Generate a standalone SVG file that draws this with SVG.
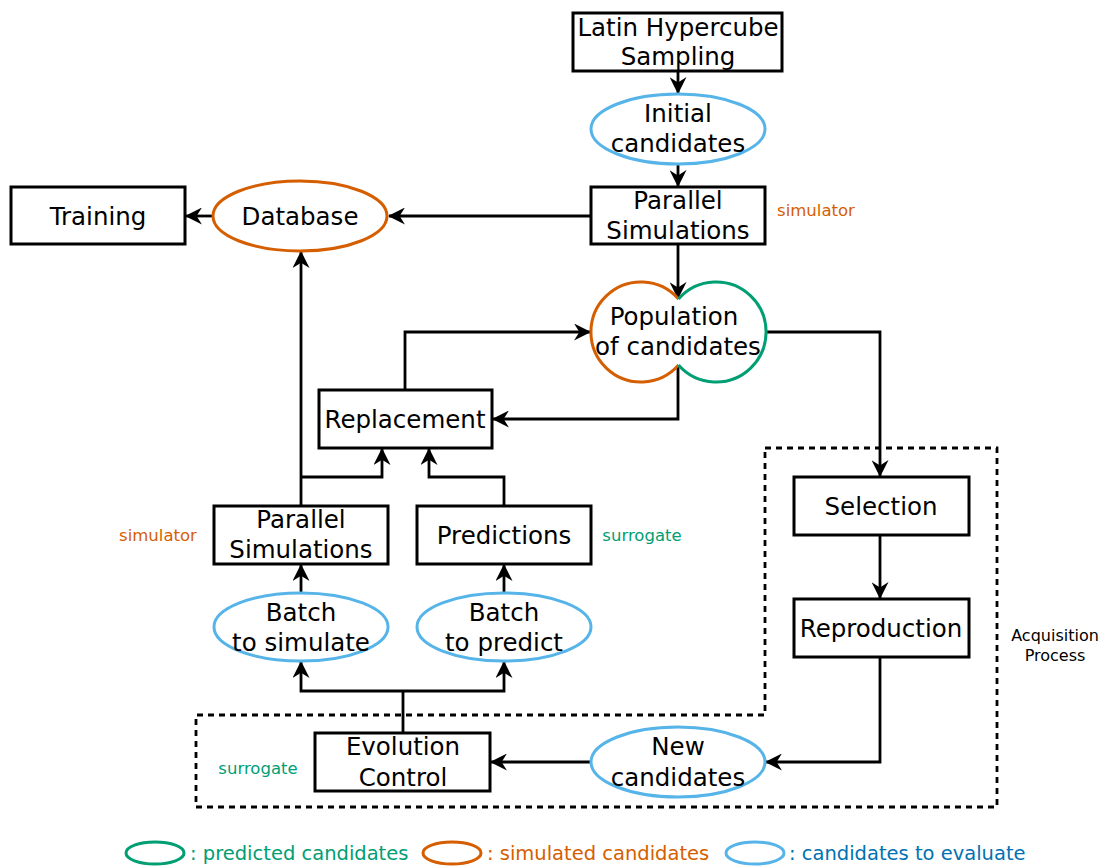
<svg xmlns="http://www.w3.org/2000/svg" width="1106" height="868" viewBox="0 0 1106 868">
<defs>
<marker id="ah" viewBox="0 0 16 16" refX="15" refY="8" markerWidth="17" markerHeight="17" markerUnits="userSpaceOnUse" orient="auto">
<path d="M0,0 L16,8 L0,16 L5,8 Z" fill="#000"/>
</marker>
</defs>
<style>
text{font-family:"DejaVu Sans","Liberation Sans",sans-serif;text-anchor:middle}
.lbl{font-size:24.5px;fill:#000}
.box{fill:#fff;stroke:#000;stroke-width:3}
.blue{fill:#fff;stroke:#56B4E9;stroke-width:3}
.orange{fill:#fff;stroke:#D55E00;stroke-width:3}
.green{fill:#fff;stroke:#009E73;stroke-width:3}
.con{fill:none;stroke:#000;stroke-width:2.8}
.arr{marker-end:url(#ah)}
.sim{font-size:16.5px;fill:#D55E00}
.sur{font-size:16.5px;fill:#009E73}
.leg{font-size:19.5px;text-anchor:start}
</style>
<rect width="1106" height="868" fill="#fff"/>
<g id="connectors">
<path class="con arr" d="M678,71 V93"/>
<path class="con arr" d="M678,164 V186"/>
<path class="con arr" d="M591,216 H389"/>
<path class="con arr" d="M213,216 H186"/>
<path class="con arr" d="M678,244 V298"/>
<path class="con arr" d="M767,332 H880 V476"/>
<path class="con arr" d="M405,390 V332 H590"/>
<path class="con arr" d="M678,366 V419 H493"/>
<path class="con arr" d="M301,506 V252"/>
<path class="con arr" d="M301,477 H382 V449"/>
<path class="con arr" d="M504,506 V477 H429 V449"/>
<path class="con arr" d="M301,593 V565"/>
<path class="con arr" d="M504,593 V565"/>
<path class="con" d="M403,733 V691"/>
<path class="con arr" d="M403,691 H301 V662"/>
<path class="con arr" d="M403,691 H504 V662"/>
<path class="con arr" d="M591,762 H491"/>
<path class="con arr" d="M880,535 V598"/>
<path class="con arr" d="M880,657 V762 H766"/>
</g>
<g id="acquisition">
<path d="M765,448 H997 V807 H196 V715 H765 Z" fill="none" stroke="#000" stroke-width="2.8" stroke-dasharray="6,5"/>
<text x="1055" y="641" style="font-size:16px">Acquisition</text>
<text x="1055" y="661" style="font-size:16px">Process</text>
</g>
<g id="lhs">
<rect class="box" x="573" y="13" width="209" height="58"/>
<text class="lbl" x="678" y="36">Latin Hypercube</text>
<text class="lbl" x="678" y="65">Sampling</text>
</g>
<g id="initial">
<ellipse class="blue" cx="678" cy="129" rx="87" ry="35"/>
<text class="lbl" x="678" y="122">Initial</text>
<text class="lbl" x="678" y="152">candidates</text>
</g>
<g id="parsim1">
<rect class="box" x="591" y="187" width="174" height="57"/>
<text class="lbl" x="678" y="209">Parallel</text>
<text class="lbl" x="678" y="239">Simulations</text>
<text class="sim" x="816" y="216">simulator</text>
</g>
<g id="database">
<ellipse class="orange" cx="300" cy="216" rx="87" ry="35"/>
<text class="lbl" x="300" y="225">Database</text>
</g>
<g id="training">
<rect class="box" x="11" y="187" width="174" height="57"/>
<text class="lbl" x="98" y="225">Training</text>
</g>
<g id="population">
<path d="M678.5,299 A50,50 0 1 0 678.5,365" fill="#fff" stroke="#D55E00" stroke-width="3"/>
<path d="M678.5,299 A50,50 0 1 1 678.5,365" fill="#fff" stroke="#009E73" stroke-width="3"/>
<text class="lbl" x="674" y="325">Population</text>
<text class="lbl" x="678" y="355">of candidates</text>
</g>
<g id="replacement">
<rect class="box" x="319" y="390" width="173" height="58"/>
<text class="lbl" x="405" y="428">Replacement</text>
</g>
<g id="parsim2">
<rect class="box" x="214" y="506" width="174" height="58"/>
<text class="lbl" x="301" y="528">Parallel</text>
<text class="lbl" x="301" y="558">Simulations</text>
<text class="sim" x="158" y="541">simulator</text>
</g>
<g id="predictions">
<rect class="box" x="417" y="506" width="174" height="58"/>
<text class="lbl" x="504" y="544">Predictions</text>
<text class="sur" x="642" y="541">surrogate</text>
</g>
<g id="batchsim">
<ellipse class="blue" cx="301" cy="627" rx="87" ry="34"/>
<text class="lbl" x="301" y="621">Batch</text>
<text class="lbl" x="301" y="651">to simulate</text>
</g>
<g id="batchpred">
<ellipse class="blue" cx="504" cy="627" rx="87" ry="34"/>
<text class="lbl" x="504" y="621">Batch</text>
<text class="lbl" x="504" y="651">to predict</text>
</g>
<g id="evolution">
<rect class="box" x="315" y="733" width="175" height="58"/>
<text class="lbl" x="403" y="755">Evolution</text>
<text class="lbl" x="403" y="786">Control</text>
<text class="sur" x="258" y="774">surrogate</text>
</g>
<g id="newcand">
<ellipse class="blue" cx="678" cy="762" rx="87" ry="35"/>
<text class="lbl" x="678" y="755">New</text>
<text class="lbl" x="678" y="786">candidates</text>
</g>
<g id="selection">
<rect class="box" x="794" y="477" width="175" height="58"/>
<text class="lbl" x="881" y="515">Selection</text>
</g>
<g id="reproduction">
<rect class="box" x="794" y="599" width="175" height="58"/>
<text class="lbl" x="881" y="637">Reproduction</text>
</g>
<g id="legend">
<ellipse class="green" cx="155" cy="853" rx="29" ry="11"/>
<text class="leg" x="190" y="860" fill="#009E73">: predicted candidates</text>
<ellipse class="orange" cx="452" cy="853" rx="29" ry="11"/>
<text class="leg" x="487" y="860" fill="#D55E00">: simulated candidates</text>
<ellipse class="blue" cx="755" cy="853" rx="29" ry="11"/>
<text class="leg" x="789" y="860" fill="#0072B2">: candidates to evaluate</text>
</g>
</svg>
